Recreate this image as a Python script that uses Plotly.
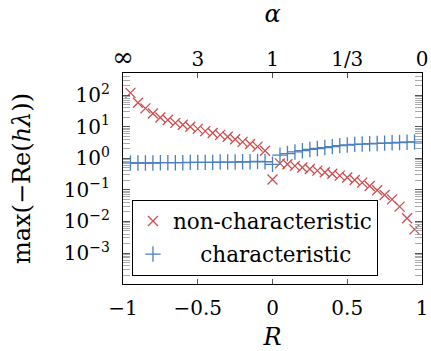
import numpy as np
import plotly.graph_objects as go

R = [-0.95, -0.90, -0.85, -0.80, -0.75, -0.70, -0.65, -0.60, -0.55, -0.50,
     -0.45, -0.40, -0.35, -0.30, -0.25, -0.20, -0.15, -0.10, -0.05, 0.0,
     0.05, 0.10, 0.15, 0.20, 0.25, 0.30, 0.35, 0.40, 0.45, 0.50,
     0.55, 0.60, 0.65, 0.70, 0.75, 0.80, 0.85, 0.90, 0.95]

# log10 of values
noncharacteristic_log = [2.07, 1.76, 1.58, 1.42, 1.29, 1.21, 1.12, 1.06, 1.00, 0.93,
                         0.86, 0.80, 0.74, 0.68, 0.60, 0.52, 0.45, 0.37, 0.24, -0.67,
                         -0.16, -0.19, -0.24, -0.29, -0.34, -0.39, -0.44, -0.49, -0.55, -0.61,
                         -0.69, -0.77, -0.88, -1.01, -1.16, -1.30, -1.53, -1.90, -2.25]
characteristic_log = [-0.15, -0.15, -0.15, -0.15, -0.14, -0.14, -0.14, -0.14, -0.13, -0.13,
                      -0.13, -0.13, -0.12, -0.12, -0.12, -0.11, -0.11, -0.10, -0.11, -0.19,
                      0.10, 0.15, 0.20, 0.24, 0.28, 0.31, 0.34, 0.37, 0.40, 0.42,
                      0.44, 0.45, 0.46, 0.47, 0.48, 0.49, 0.50, 0.51, 0.52]

noncharacteristic = [10 ** v for v in noncharacteristic_log]
characteristic = [10 ** v for v in characteristic_log]

x_ticks = [-1, -0.5, 0, 0.5, 1]
x_ticktext = ["−1", "−0.5", "0", "0.5", "1"]
alpha_ticktext = ['<span style="font-size:26px">∞</span>', "3", "1", "1/3", "0"]
y_exponents = [-3, -2, -1, 0, 1, 2]
y_ticks = [10.0 ** e for e in y_exponents]
y_ticktext = ["10<sup>%s</sup>" % (str(e).replace("-", "−")) for e in y_exponents]
y_minor = [m * 10.0 ** e for e in range(-4, 3) for m in range(2, 10)]

RED = "#d04c4f"
BLUE = "#4a7fc0"
FONT = "DejaVu Serif"
NB = "\u00a0"

fig = go.Figure()
fig.add_trace(go.Scatter(
    x=R, y=noncharacteristic, mode="markers", name="non-characteristic",
    legendgroup="a",
    marker=dict(symbol="x-thin", size=10, line=dict(color=RED, width=1.3)),
))
fig.add_trace(go.Scatter(
    x=R, y=characteristic, mode="markers", name=NB * 4 + "characteristic",
    legendgroup="b",
    marker=dict(symbol="cross-thin", size=11, line=dict(color=BLUE, width=1.3)),
))
# invisible trace to anchor the top alpha axis
fig.add_trace(go.Scatter(
    x=[-1, 1], y=[1, 1], xaxis="x2", mode="markers", opacity=0,
    showlegend=False, hoverinfo="skip",
))

fig.update_layout(
    width=431, height=351,
    margin=dict(l=123, r=9, t=73, b=67),
    paper_bgcolor="white", plot_bgcolor="white",
    font=dict(family=FONT, size=20, color="black"),
    showlegend=True,
    legend=dict(
        x=0.03, y=0.40, xanchor="left", yanchor="top",
        bgcolor="white", bordercolor="black", borderwidth=1,
        font=dict(family=FONT, size=21.5), itemwidth=30,
        traceorder="grouped", tracegroupgap=2,
    ),
    xaxis=dict(
        range=[-1, 1], tickmode="array", tickvals=x_ticks, ticktext=x_ticktext,
        ticks="inside", ticklen=5, tickcolor="#555", showline=True, linecolor="black",
        linewidth=1.2, mirror="allticks", showgrid=False, zeroline=False,
        automargin=False, ticklabelstandoff=6,
        title=dict(text="<i>R</i>", standoff=22),
    ),
    xaxis2=dict(
        range=[-1, 1], overlaying="x", side="top", tickmode="array",
        tickvals=x_ticks, ticktext=alpha_ticktext, ticks="", showline=False,
        showgrid=False, zeroline=False, automargin=False, ticklabelstandoff=2,
        title=dict(text="<i>α</i>", standoff=16),
    ),
    yaxis=dict(
        type="log", range=[-3.98, 2.70], tickmode="array", tickvals=y_ticks,
        ticktext=y_ticktext,
        ticks="inside", ticklen=7, tickcolor="#555", showline=True, linecolor="black",
        linewidth=1.2, mirror="allticks", showgrid=False, zeroline=False,
        automargin=False, ticklabelstandoff=8,
        minor=dict(tickmode="array", tickvals=y_minor, ticks="inside", ticklen=5,
                   tickcolor="#aaaaaa", showgrid=False),
        title=dict(text="max(−Re(<i>hλ</i>))", standoff=26),
    ),
)

fig.write_html("out.html")
